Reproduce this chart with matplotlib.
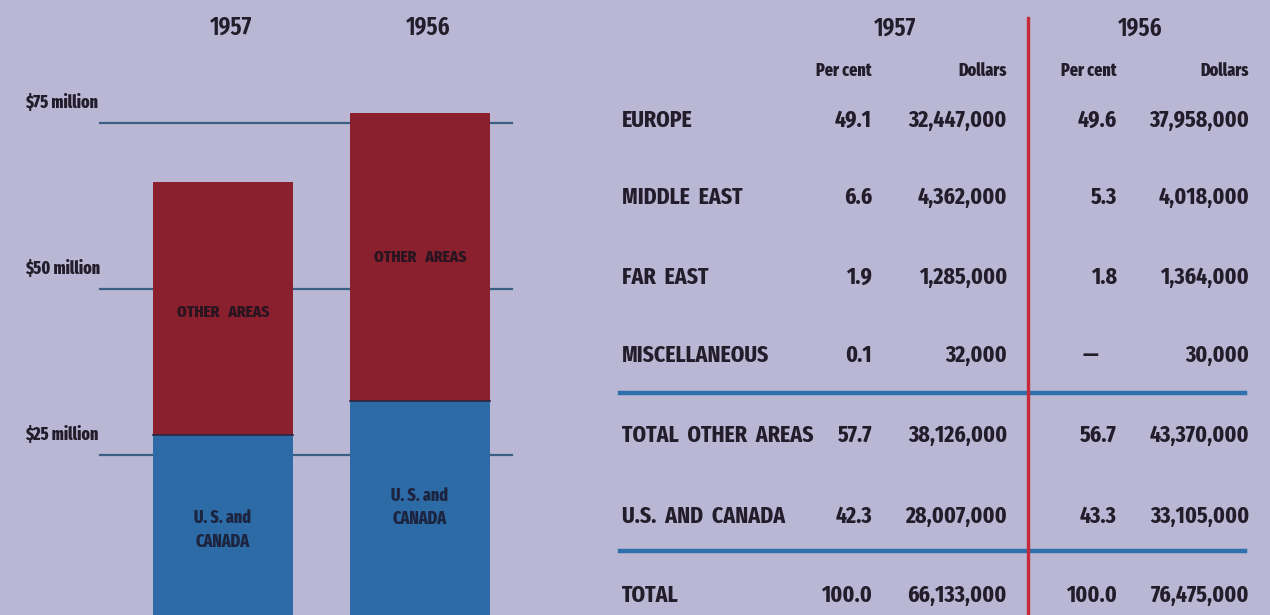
import matplotlib.pyplot as plt

# data
years = ['1957', '1956']
us_canada = [28007000, 33105000]
other_areas = [38126000, 43370000]
grid_values = [25, 50, 75]
grid_labels = ['$25 million', '$50 million', '$75 million']

rows = ['EUROPE', 'MIDDLE  EAST', 'FAR  EAST', 'MISCELLANEOUS',
        'TOTAL  OTHER  AREAS', 'U.S.  AND  CANADA', 'TOTAL']
pct_1957 = ['49.1', '6.6', '1.9', '0.1', '57.7', '42.3', '100.0']
usd_1957 = ['32,447,000', '4,362,000', '1,285,000', '32,000',
            '38,126,000', '28,007,000', '66,133,000']
pct_1956 = ['49.6', '5.3', '1.8', '—', '56.7', '43.3', '100.0']
usd_1956 = ['37,958,000', '4,018,000', '1,364,000', '30,000',
            '43,370,000', '33,105,000', '76,475,000']

BG = '#b9b7d4'
RED = '#8a1f2d'
BLUE = '#2c6ba6'
INK = '#231c2b'

plt.rcParams['font.family'] = ['Fira Sans Extra Condensed', 'DejaVu Sans']
plt.rcParams['font.weight'] = 'bold'

W, H = 1270, 615
fig = plt.figure(figsize=(W / 100, H / 100), dpi=100, facecolor=BG)

# ---- left: stacked bars ----
ax = fig.add_axes([0, 0, 560 / W, 1])
ax.set_facecolor(BG)
x = [0, 1]
m_us = [v / 1e6 for v in us_canada]
m_other = [v / 1e6 for v in other_areas]
for g in grid_values:
    ax.plot([-0.625, 1.467], [g, g], color='#3b5f82', lw=1.6, zorder=1)
ax.bar(x, m_us, width=0.71, color=BLUE, zorder=2)
ax.bar(x, m_other, width=0.71, bottom=m_us, color=RED, zorder=2)
ax.plot([-0.355, 0.355], [m_us[0], m_us[0]], color='#2a2740', lw=1.2, zorder=3)
ax.plot([0.645, 1.355], [m_us[1], m_us[1]], color='#2a2740', lw=1.2, zorder=3)
ax.set_xlim(-1.132, 1.711)
ax.set_ylim(0.9, 93.5)
ax.axis('off')

for g, lab in zip(grid_values, grid_labels):
    ax.annotate(lab, (-1.005, g), xytext=(0, 8), textcoords='offset points',
                ha='left', va='bottom', fontsize=12.5, color=INK, fontweight='heavy')
for i, yr in enumerate(years):
    ax.text(x[i] + 0.04, 89.3, yr, ha='center', va='center', fontsize=18,
            color=INK, fontweight='semibold')

# labels inside bars
other_label_y = [46.4, 54.8]
us_label_y = [13.7, 17.1]
for i in range(2):
    ax.text(x[i], other_label_y[i], 'OTHER   AREAS', ha='center', va='center',
            fontsize=12, color='#2a1420', fontweight='heavy')
    ax.text(x[i], us_label_y[i], 'U. S. and\nCANADA', ha='center', va='center',
            fontsize=12.5, color='#1c2440', linespacing=1.45, fontweight='heavy')

# ---- right: table ----
tx = fig.add_axes([0, 0, 1, 1])
tx.set_xlim(0, W)
tx.set_ylim(H, 0)
tx.axis('off')
tx.patch.set_alpha(0)

tx.plot([1028, 1028], [18, H], color='#c42a3a', lw=2.4, zorder=1)
for yl in (393, 551):
    tx.plot([620, 1245], [yl, yl], color='#2e70ac', lw=3.2, zorder=0)

tx.text(895, 28, '1957', ha='center', va='center', fontsize=18, color=INK, fontweight='semibold')
tx.text(1140, 28, '1956', ha='center', va='center', fontsize=18, color=INK, fontweight='semibold')
for xr, lab in ((872, 'Per cent'), (1007, 'Dollars'), (1117, 'Per cent'), (1249, 'Dollars')):
    tx.text(xr, 71, lab, ha='right', va='center', fontsize=12.5, color=INK, fontweight='heavy')

FS = 17
row_y = [120, 197, 277, 355, 435, 516, 595]
for i, r in enumerate(rows):
    y = row_y[i]
    tx.text(622, y, r, ha='left', va='center', fontsize=FS, color=INK)
    tx.text(872, y, pct_1957[i], ha='right', va='center', fontsize=FS, color=INK)
    tx.text(1007, y, usd_1957[i], ha='right', va='center', fontsize=FS, color=INK)
    if pct_1956[i] == '—':
        tx.text(1090, y, pct_1956[i], ha='center', va='center', fontsize=FS, color=INK)
    else:
        tx.text(1117, y, pct_1956[i], ha='right', va='center', fontsize=FS, color=INK)
    tx.text(1249, y, usd_1956[i], ha='right', va='center', fontsize=FS, color=INK)

fig.savefig('out.png', dpi=100, facecolor=BG)
